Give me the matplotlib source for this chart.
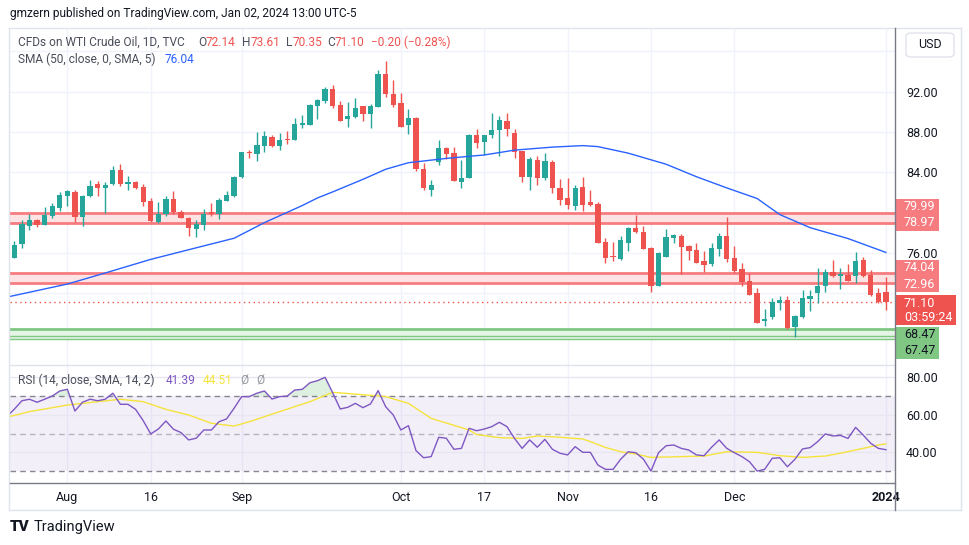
import matplotlib
matplotlib.use('Agg')
import matplotlib.pyplot as plt
from matplotlib.patches import Rectangle, FancyBboxPatch
from matplotlib.lines import Line2D
import numpy as np

plt.rcParams['font.family'] = ['Roboto', 'DejaVu Sans']

# daily candles, TVC:USOIL, late Jul 2023 -> Jan 02 2024
opens = [75.5, 76.9, 78.7, 79.26, 78.8, 79.7, 80.5, 81.6, 82.0, 79.6,
         81.6, 82.8, 82.4, 82.8, 84.2, 82.8, 83.0, 82.5, 81.1, 79.1,
         79.9, 81.3, 80.1, 79.5, 78.4, 78.8, 80.05, 79.9, 81.15, 81.6,
         83.5, 86.0, 85.85, 86.6, 87.5, 86.65, 87.3, 87.2, 88.7, 88.7,
         90.6, 91.1, 92.3, 90.7, 89.25, 89.5, 90.6, 89.75, 90.5, 93.8,
         91.75, 90.85, 88.65, 89.35, 84.3, 82.2, 85.0, 86.4, 85.9, 83.05,
         83.4, 87.7, 87.0, 87.7, 88.15, 89.1, 87.9, 86.15, 83.55, 85.2,
         83.45, 85.05, 82.4, 81.4, 80.7, 82.55, 81.0, 80.85, 77.1, 75.6,
         75.4, 77.0, 78.45, 78.05, 76.45, 72.7, 75.6, 77.45, 77.7, 76.65,
         76.3, 75.2, 74.9, 76.4, 77.65, 75.5, 74.4, 73.2, 72.0, 69.25,
         69.65, 71.0, 71.3, 68.65, 69.6, 71.4, 72.05, 72.7, 74.05, 73.65,
         73.8, 73.65, 75.3, 73.75, 72.0, 72.14]
highs = [77.2, 79.3, 79.9, 79.4, 80.55, 80.9, 82.0, 82.2, 82.2, 81.7,
         83.2, 83.1, 83.0, 84.65, 84.8, 83.6, 83.1, 82.8, 81.4, 81.05,
         81.6, 82.1, 80.25, 79.6, 79.3, 80.4, 80.9, 81.4, 82.1, 83.6,
         86.05, 86.2, 88.0, 88.1, 87.7, 87.9, 88.1, 89.4, 89.7, 90.75,
         91.3, 92.45, 92.7, 91.1, 91.0, 91.4, 90.6, 90.75, 94.15, 95.05,
         93.15, 91.85, 90.25, 89.5, 84.9, 83.2, 87.2, 86.55, 86.5, 85.2,
         87.8, 88.3, 87.75, 89.85, 89.6, 89.85, 88.3, 86.15, 85.55, 85.6,
         85.9, 85.2, 83.3, 83.4, 82.75, 83.55, 82.25, 81.0, 77.45, 77.1,
         77.65, 78.6, 79.75, 78.65, 76.6, 76.1, 78.35, 77.85, 77.85, 76.8,
         77.0, 76.2, 77.0, 78.0, 79.6, 76.7, 74.95, 74.0, 72.5, 70.4,
         71.5, 71.75, 71.75, 69.8, 72.3, 72.3, 74.45, 74.4, 75.3, 74.45,
         74.9, 76.05, 75.55, 74.3, 72.55, 73.61]
lows = [75.5, 76.5, 78.3, 78.6, 78.8, 79.5, 80.2, 80.65, 79.1, 78.7,
        81.5, 81.6, 80.0, 82.7, 82.6, 82.2, 82.3, 80.65, 79.1, 79.0,
        79.7, 79.9, 79.5, 77.7, 77.6, 78.3, 79.7, 79.4, 81.1, 81.5,
        83.4, 85.4, 85.1, 86.0, 86.55, 86.2, 86.8, 87.2, 88.4, 88.7,
        89.3, 90.9, 90.4, 89.1, 88.5, 89.4, 89.1, 88.4, 90.5, 91.5,
        90.5, 88.5, 87.8, 84.1, 82.2, 81.6, 84.7, 85.3, 83.1, 82.4,
        83.4, 86.45, 85.7, 87.4, 85.6, 87.6, 85.45, 83.05, 82.2, 82.7,
        83.2, 81.9, 80.75, 80.4, 80.25, 80.15, 80.7, 77.0, 74.95, 75.2,
        75.3, 76.2, 77.95, 76.35, 72.15, 72.7, 75.6, 77.0, 73.9, 75.3,
        75.0, 74.1, 74.7, 75.7, 75.05, 73.95, 72.7, 71.8, 69.0, 68.75,
        69.4, 70.3, 68.4, 67.65, 69.5, 70.25, 71.0, 72.15, 73.6, 72.4,
        73.2, 73.05, 73.6, 71.7, 71.05, 70.35]
closes = [76.8, 78.9, 79.3, 78.8, 79.75, 80.65, 81.7, 82.1, 79.6, 81.6,
          82.6, 82.4, 82.7, 84.2, 82.8, 83.0, 82.4, 81.0, 79.2, 79.9,
          81.3, 80.1, 79.5, 78.5, 78.9, 79.9, 79.9, 81.25, 81.7, 83.5,
          86.0, 85.9, 86.7, 87.6, 86.65, 87.2, 87.22, 88.76, 88.9, 90.7,
          91.15, 92.3, 90.6, 89.1, 89.6, 90.4, 89.75, 90.6, 93.75, 91.8,
          90.7, 88.5, 89.4, 84.3, 82.4, 82.75, 86.4, 85.8, 83.15, 83.4,
          87.7, 86.95, 87.7, 88.2, 89.2, 88.25, 86.05, 83.55, 85.3, 83.4,
          85.1, 82.45, 81.25, 80.75, 82.4, 80.75, 80.75, 77.0, 75.45, 75.55,
          77.25, 78.45, 78.05, 76.4, 72.7, 75.95, 77.55, 77.75, 76.6, 76.2,
          75.0, 74.8, 76.5, 77.65, 75.4, 74.2, 73.15, 71.8, 69.05, 69.45,
          71.1, 71.3, 68.55, 69.75, 71.55, 71.7, 72.7, 74.05, 73.65, 73.85,
          73.25, 75.2, 73.65, 71.8, 71.1, 71.10]

# SMA(50)
sma_idx = [-1, 7, 12, 18, 24, 29, 33, 38, 40, 42, 46, 49, 52, 57, 62, 66,
           71, 75, 77, 81, 86, 90, 94, 98, 101, 105, 110, 115]
sma_vals = [71.6, 72.9, 74.0, 75.35, 76.5, 77.45, 79.0, 80.7, 81.45, 82.05,
            83.3, 84.3, 84.95, 85.38, 85.72, 86.2, 86.5, 86.65, 86.55, 85.9,
            84.8, 83.56, 82.45, 81.4, 79.8, 78.5, 77.42, 76.04]

# RSI(14), starting one bar before the first candle
rsi = [59.0,
       63.0, 67.5, 68.3, 66.7, 68.3, 70.0, 72.7, 73.6, 62.0, 66.7,
       68.3, 67.5, 68.3, 71.5, 65.6, 65.6, 62.9, 56.9, 49.8, 52.4,
       56.7, 52.3, 50.5, 46.6, 47.5, 51.9, 51.9, 56.3, 57.8, 63.5,
       69.7, 69.7, 71.5, 72.7, 68.4, 69.7, 70.0, 73.2, 73.6, 77.1,
       78.2, 80.0, 71.8, 63.1, 64.0, 66.1, 63.8, 65.8, 72.9, 64.3,
       59.9, 51.9, 54.2, 40.9, 37.1, 37.7, 48.0, 47.5, 41.6, 42.1,
       52.8, 51.5, 52.4, 53.7, 56.0, 53.7, 47.4, 42.1, 46.6, 42.7,
       46.9, 41.6, 39.5, 38.6, 43.0, 40.0, 40.0, 33.2, 30.9, 30.9,
       36.3, 40.3, 39.8, 36.4, 30.0, 39.8, 43.5, 43.9, 42.1, 41.2,
       38.6, 38.2, 42.7, 46.6, 42.1, 39.8, 37.7, 35.0, 30.0, 30.9,
       36.8, 37.1, 32.3, 36.3, 41.8, 42.5, 45.7, 49.8, 48.7, 49.0,
       47.4, 53.3, 49.2, 44.8, 42.1, 41.39]

# RSI-based SMA (yellow)
sig_idx = [-1, 2, 7, 11, 14, 17, 20, 23, 26, 29, 31, 35, 39, 42, 46, 49, 52,
           55, 60, 61, 64, 67, 69, 72, 75, 76, 78, 80, 82, 84, 88, 91, 94, 98,
           101, 104, 107, 109, 112, 114, 115]
sig_vals = [58.7, 61.7, 65.2, 67.0, 68.3, 67.0, 62.9, 59.9, 55.5, 54.0, 56.3,
            61.7, 67.0, 72.0, 70.7, 69.7, 66.1, 58.1, 51.9, 49.5, 47.8, 47.4,
            48.7, 48.0, 47.1, 45.7, 42.6, 40.3, 39.1, 37.3, 37.7, 38.0, 40.3,
            40.0, 38.2, 37.3, 38.0, 39.5, 42.1, 43.9, 44.51]

resist_zones = [(78.97, 79.99), (72.96, 74.04)]
support_zone = (67.47, 68.47)
last_close = 71.10

tick_idx = [7, 18, 30, 51, 62, 73, 84, 95, 115]
tick_lbl = ['Aug', '16', 'Sep', 'Oct', '17', 'Nov', '16', 'Dec', '2024']
price_ticks = [76, 84, 88, 92]
rsi_ticks = [40, 60, 80]

GREEN = '#26a69a'
RED = '#ef5350'
TXT = '#131722'
GREY = '#4a4e5a'
GRID = '#f0f3fa'
FS = 9
LS = 8.6

W, H = 970, 545
fig = plt.figure(figsize=(W / 100, H / 100), dpi=100)


def fx(px):
    return px / W


def fy(py):
    return 1 - py / H


ax = fig.add_axes([fx(10), fy(365), fx(895) - fx(10), (365 - 28) / H])
rx = fig.add_axes([fx(10), fy(482.7), fx(895) - fx(10), (482.7 - 365) / H], sharex=ax)

for a in (ax, rx):
    for s in a.spines.values():
        s.set_visible(False)
    a.set_facecolor('white')
    for t in tick_idx:
        a.axvline(t, color=GRID, lw=1, zorder=0)

ax.set_xlim(-0.57, 116.2)
ax.set_ylim(64.86, 98.33)
rx.set_ylim(23.79, 86.56)

# ---- price panel
for y in range(68, 97, 4):
    ax.axhline(y, color=GRID, lw=1, zorder=0)

for lo, hi in resist_zones:
    ax.axhspan(lo, hi, color='#fde3e4', lw=0, zorder=1)
    ax.axhline(lo, color='#f77c80', lw=2, zorder=1.5)
    ax.axhline(hi, color='#f77c80', lw=2, zorder=1.5)
ax.axhspan(support_zone[0], support_zone[1], color='#e4f4e5', lw=0, zorder=1)
ax.axhline(support_zone[1], color='#81c784', lw=2, zorder=1.5)
ax.axhline(support_zone[0] + 0.25, color='#81c784', lw=1, zorder=1.5)
ax.axhline(support_zone[0], color='#81c784', lw=1, zorder=1.5)

o = np.array(opens)
c = np.array(closes)
hi_ = np.array(highs)
lo_ = np.array(lows)
idx = np.arange(len(o))
col = np.where(c >= o, GREEN, RED)
ax.vlines(idx, lo_, hi_, color=col, lw=1, zorder=3)
ax.bar(idx, np.maximum(np.abs(c - o), 0.1), 0.7, bottom=np.minimum(o, c),
       color=col, lw=0, zorder=4)

ax.plot(sma_idx, sma_vals, color='#2962ff', lw=1, zorder=5)
ax.axhline(last_close, color=RED, lw=1, ls=(0, (1, 2.5)), zorder=2)

ax.yaxis.tick_right()
ax.set_yticks(price_ticks, ['%.2f' % v for v in price_ticks])
ax.tick_params(axis='y', length=0, pad=8, labelsize=FS, labelcolor=TXT)
ax.tick_params(axis='x', length=0, labelbottom=False)

# ---- RSI panel
rsi = np.array(rsi)
ridx = np.arange(-1, len(rsi) - 1)
rx.axhspan(30, 70, color='#7e57c2', alpha=0.09, lw=0, zorder=0)
for y in rsi_ticks:
    rx.axhline(y, color='#e9e6f3', lw=1, zorder=0.5)
for y in (70, 50, 30):
    rx.axhline(y, color='#787b86', lw=1, ls=(0, (4, 3)),
               alpha=0.9 if y != 50 else 0.5, zorder=1)
rx.fill_between(ridx, 70, rsi, where=rsi > 70, interpolate=True,
                color='#4caf50', alpha=0.18, lw=0, zorder=1)
rx.plot(sig_idx, sig_vals, color='#f5e33b', lw=1, zorder=2)
rx.plot(ridx, rsi, color='#7e57c2', lw=1, zorder=3)

rx.yaxis.tick_right()
rx.set_yticks(rsi_ticks, ['%.2f' % v for v in rsi_ticks])
rx.tick_params(axis='y', length=0, pad=8, labelsize=FS, labelcolor=TXT)
rx.set_xticks(tick_idx, tick_lbl)
rx.tick_params(axis='x', length=0, pad=6, labelsize=FS, labelcolor=TXT)
rx.get_xticklabels()[-1].set_fontweight('bold')


# ---- frame lines
def fline(x0, y0, x1, y1, color, lw=1):
    fig.add_artist(Line2D([fx(x0), fx(x1)], [fy(y0), fy(y1)], color=color, lw=lw,
                          transform=fig.transFigure))


fline(9, 28, 961, 28, '#e0e3eb')
fline(9, 510, 961, 510, '#e0e3eb')
fline(9, 28, 9, 510, '#e0e3eb')
fline(961, 28, 961, 510, '#e0e3eb')
fline(10, 365, 895, 365, '#e0e3eb')
fline(10, 482.7, 895, 482.7, '#787b86')
fline(895, 28, 895, 510, '#787b86')


# ---- price tags on the right scale
def tag(val, text, bg, fg, dy=0, h=16, x1=939, dy_box=0):
    yd = ax.transData.transform((0, val))[1] - dy
    yb = yd - dy_box
    fig.add_artist(Rectangle((fx(896), (yb - h / 2) / H), fx(x1) - fx(896), h / H,
                             transform=fig.transFigure, color=bg, lw=0))
    fig.text(fx(904), yd / H, text, ha='left', va='center', color=fg, size=FS)


tag(resist_zones[0][1], '%.2f' % resist_zones[0][1], '#f77c80', 'white', dy=-6)
tag(resist_zones[0][0], '%.2f' % resist_zones[0][0], '#f77c80', 'white', dy=0)
tag(resist_zones[1][1], '%.2f' % resist_zones[1][1], '#f77c80', 'white', dy=-5)
tag(resist_zones[1][0], '%.2f' % resist_zones[1][0], '#f77c80', 'white', dy=1)
tag(last_close, '%.2f' % last_close, RED, 'white', dy=1, h=30, x1=956, dy_box=7)
yd = ax.transData.transform((0, last_close))[1] - 15.5
fig.text(fx(904), yd / H, '03:59:24', ha='left', va='center', color='white', size=FS)
tag(support_zone[1], '%.2f' % support_zone[1], '#81c784', TXT, dy=6)
tag(support_zone[0], '%.2f' % support_zone[0], '#81c784', TXT, dy=12)

# USD box
fig.add_artist(FancyBboxPatch((fx(906), fy(57)), fx(954) - fx(906), (57 - 33) / H,
                              boxstyle='round,pad=0,rounding_size=0.006',
                              transform=fig.transFigure, fc='white', ec='#e0e3eb', lw=1))
fig.text(fx(930), fy(45), 'USD', ha='center', va='center', size=FS, color=TXT)

# ---- texts
fig.text(fx(10), fy(14), 'gmzern published on TradingView.com, Jan 02, 2024 13:00 UTC-5',
         va='center', size=LS, color=TXT)

leg_y = fy(42)
fig.text(fx(18), leg_y, 'CFDs on WTI Crude Oil, 1D, TVC', va='center', size=LS, color=GREY)
for xl, lab, xv, val in [(198, 'O', 206, '72.14'), (242, 'H', 251, '73.61'),
                         (286, 'L', 293, '70.35'), (327, 'C', 335, '71.10')]:
    fig.text(fx(xl), leg_y, lab, va='center', size=LS, color=GREY)
    fig.text(fx(xv), leg_y, val, va='center', size=LS, color=RED)
fig.text(fx(371), leg_y, '\u22120.20 (\u22120.28%)', va='center', size=LS, color=RED)

fig.text(fx(18), fy(59), 'SMA (50, close, 0, SMA, 5)', va='center', size=LS, color=GREY)
fig.text(fx(165), fy(59), '76.04', va='center', size=LS, color='#2962ff')

fig.text(fx(18), fy(380), 'RSI (14, close, SMA, 14, 2)', va='center', size=LS, color=GREY)
fig.text(fx(166), fy(380), '41.39', va='center', size=LS, color='#7e57c2')
fig.text(fx(203), fy(380), '44.51', va='center', size=LS, color='#f5e33b')
fig.text(fx(240), fy(380), '\u00d8', va='center', size=LS, color='#9598a1')
fig.text(fx(256), fy(380), '\u00d8', va='center', size=LS, color='#9598a1')

fig.text(fx(10), fy(527), 'TV', va='center', size=11, weight='heavy', color=TXT)
fig.text(fx(34), fy(527), 'TradingView', va='center', size=10.5, color=TXT)

fig.savefig('out.png', dpi=100, facecolor='white')
